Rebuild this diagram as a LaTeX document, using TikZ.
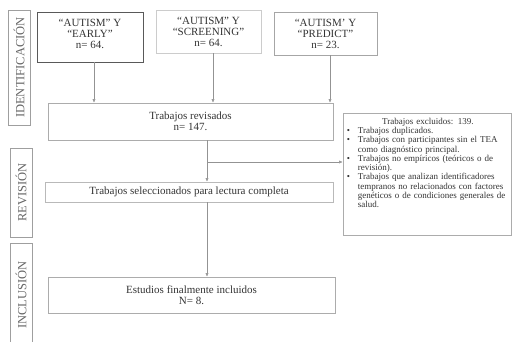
\documentclass[tikz,border=0pt]{standalone}
\usepackage{fontspec}
\setmainfont{Liberation Serif}
\usetikzlibrary{arrows.meta}

\tikzset{
    box/.style={draw=gray!55, line width=0.6pt, align=center, inner sep=0pt,
        font=\fontsize{11}{11}\selectfont, text=black!80},
    phase/.style={draw=gray!75, line width=0.6pt, rotate=90, inner sep=0pt,
        minimum height=22pt, font=\fontsize{12.5}{13}\selectfont, text=black!60},
    arr/.style={draw=gray!85, line width=0.5pt, -{Latex[length=3.5pt,width=3pt]}},
}

\begin{document}
\begin{tikzpicture}[x=1pt,y=-1pt]
    \useasboundingbox (0,0) rectangle (512,342);

    %% Flow chart of the search

    % Phases
    \node[phase, minimum width=115pt] (phId) at (19,67.5) {IDENTIFICACIÓN};
    \node[phase, minimum width=89pt] (phRev) at (21,192.5) {REVISIÓN};
    \node[phase, minimum width=104pt] (phInc) at (21,295) {INCLUSIÓN};

    % Search strings
    \node[box, draw=black!65, minimum width=106pt, minimum height=50pt] (early) at (90,37)
        {“AUTISM” Y\\“EARLY”\\n= 64.\\[-4pt]\mbox{}};
    \node[box, draw=gray!40, minimum width=105pt, minimum height=43pt] (screen) at (208.5,31.5)
        {“AUTISM” Y\\“SCREENING”\\n= 64.};
    \node[box, draw=gray!70, minimum width=103pt, minimum height=43pt] (predict) at (325.5,33.5)
        {“AUTISM’ Y\\“PREDICT”\\n= 23.};

    % Screening steps
    \node[box, draw=gray!65, minimum width=285pt, minimum height=37pt] (revisados) at (190.5,121.5)
        {Trabajos revisados\\n= 147.};
    \node[box, minimum width=288pt, minimum height=20pt] (selecc) at (189,192)
        {Trabajos seleccionados para lectura completa};
    \node[box, draw=gray!65, minimum width=287pt, minimum height=36pt] (incluidos) at (191.5,295)
        {Estudios finalmente incluidos\\N= 8.};

    % Excluded works
    \node[draw=gray!65, line width=0.6pt, minimum width=168pt, minimum height=122pt] (excluidos) at (427,174) {};
    \node[anchor=north west, inner sep=0pt, text width=162pt, align=left,
        font=\fontsize{9}{9.3}\selectfont, text=black!80] (exclTxt) at ([shift={(4,5)}]excluidos.north west)
        {\makebox[162pt][c]{Trabajos excluidos: 139.}\\
         \makebox[11pt][l]{\textbullet}Trabajos duplicados.\\
         \makebox[11pt][l]{\textbullet}Trabajos con participantes sin el TEA\\
         \hspace*{11pt}como diagnóstico principal.\\
         \makebox[11pt][l]{\textbullet}Trabajos no empíricos (teóricos o de\\
         \hspace*{11pt}revisión).\\
         \makebox[11pt][l]{\textbullet}Trabajos que analizan identificadores\\
         \hspace*{11pt}tempranos no relacionados con factores\\
         \hspace*{11pt}genéticos o de condiciones generales de\\
         \hspace*{11pt}salud.};

    % Arrows
    \draw[arr] ([xshift=4pt]early.south) -- ([xshift=4pt]early.south |- revisados.north);
    \draw[arr] ([xshift=4.5pt]screen.south) -- ([xshift=4.5pt]screen.south |- revisados.north);
    \draw[arr] ([xshift=4.5pt]predict.south) -- ([xshift=4.5pt]predict.south |- revisados.north);

    \coordinate (trunk) at (207,162);
    \draw[arr] (trunk |- revisados.south) -- (trunk |- selecc.north);
    \draw[arr] (trunk) -- (trunk -| excluidos.west);
    \draw[arr] (trunk |- selecc.south) -- (trunk |- incluidos.north);

\end{tikzpicture}
\end{document}
